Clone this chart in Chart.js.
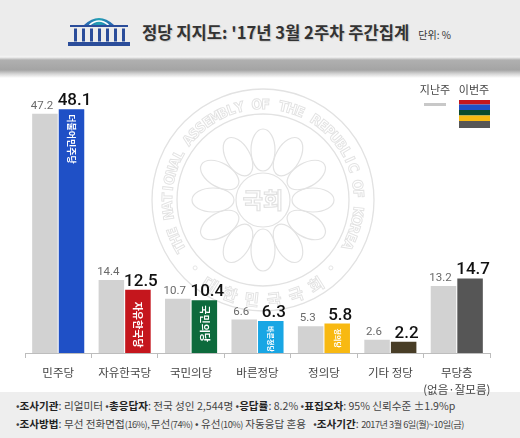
<!DOCTYPE html>
<html>
<head>
<meta charset="utf-8">
<script src="https://cdn.jsdelivr.net/npm/chart.js@4.4.0/dist/chart.umd.min.js"></script>
<style>
  html, body { margin: 0; padding: 0; background: #fff; }
  body { width: 520px; height: 438px; position: relative; overflow: hidden; font-family: "Noto Sans CJK KR", sans-serif; }
  #head { position: absolute; left: 0; top: 0; width: 520px; height: 78px;
    background: linear-gradient(#ececec 0px, #ececec 55px, #f4f4f4 57px, #b0b0b0 60px, #a4a4a4 70px, #d6d6d6 74px, #fff 78px); }
  #title { position: absolute; left: 142px; top: 19px; line-height: 26px; font-size: 16.6px; font-weight: bold; color: #333; white-space: nowrap;
    text-shadow: 1px 1px 1px rgba(0,0,0,0.15); }
  #title small { font-size: 10px; font-weight: normal; margin-left: 9px; text-shadow: none; }
  #logo { position: absolute; left: 66px; top: 13px; }
  #foot { position: absolute; left: 0; top: 392px; width: 520px; height: 46px; background: #eeeeee;
    font-size: 10.6px; line-height: 18px; color: #444; padding: 5px 0 0 16px; box-sizing: border-box; white-space: nowrap; }
  #foot b { color: #222; }
  #foot .n { font-size: 9.2px; letter-spacing: -0.5px; }
  #c { position: absolute; left: 0; top: 0; }
</style>
</head>
<body>
<div id="head"></div>
<svg id="logo" width="68" height="37" viewBox="0 0 68 37">
  <defs>
    <linearGradient id="dome" x1="0" y1="0" x2="1" y2="0">
      <stop offset="0" stop-color="#2a5fb2"/>
      <stop offset="0.5" stop-color="#22a3b4"/>
      <stop offset="1" stop-color="#2a5fb2"/>
    </linearGradient>
  </defs>
  <path d="M18 12 Q33 -2 48 12 Z" fill="url(#dome)"/>
  <path d="M23.5 12 Q33 4 42.5 12" fill="none" stroke="#fff" stroke-width="1.6"/>
  <rect x="4" y="12" width="58" height="2" fill="#2b4d9a"/>
  <g fill="#2b4d9a">
    <rect x="8" y="15.5" width="3" height="13"/>
    <rect x="16" y="15.5" width="3" height="13"/>
    <rect x="24" y="15.5" width="3" height="13"/>
    <rect x="32" y="15.5" width="3" height="13"/>
    <rect x="40" y="15.5" width="3" height="13"/>
    <rect x="48" y="15.5" width="3" height="13"/>
    <rect x="56" y="15.5" width="3" height="13"/>
  </g>
  <rect x="2" y="29" width="62" height="4" fill="#2b4d9a"/>
</svg>
<div id="title">정당 지지도: '17년 3월 2주차 주간집계<small>단위: %</small></div>
<div id="foot">
  <div>•<b>조사기관</b>: 리얼미터 •<b>총응답자</b>: 전국 성인 2,544명 •<b>응답률</b>: 8.2% •<b>표집오차</b>: 95% 신뢰수준 ±1.9%p</div>
  <div>•<b>조사방법</b>: 무선 전화면접<span class="n">(16%), </span>무선<span class="n">(74%)</span> • 유선<span class="n">(10%)</span> 자동응답 혼용 &nbsp; •<b>조사기간</b>: <span class="n">2017년 3월 6일(월)~10일(금)</span></div>
</div>
<canvas id="c" width="520" height="438"></canvas>
<script>
// chart values
const categories = ['민주당', '자유한국당', '국민의당', '바른정당', '정의당', '기타 정당', ['무당층', '(없음·잘모름)']];
const lastWeek = [47.2, 14.4, 10.7, 6.6, 5.3, 2.6, 13.2];
const thisWeek = [48.1, 12.5, 10.4, 6.3, 5.8, 2.2, 14.7];
const partyColors = ['#1f50c6', '#c5161d', '#0d6a3c', '#19a6e4', '#f8b912', '#483d26', '#565656'];
const barNames = ['더불어민주당', '자유한국당', '국민의당', '바른정당', '정의당', '', ''];
const legendLabels = ['지난주', '이번주'];

const KR = '"Noto Sans CJK KR", sans-serif';
const NUM = 'Roboto, "Noto Sans", sans-serif';

// faint assembly seal behind the bars
const sealPlugin = {
  id: 'seal',
  beforeDatasetsDraw(chart) {
    const ctx = chart.ctx;
    const cx = 263, cy = 200;
    ctx.save();
    ctx.strokeStyle = '#e2e2e2';
    ctx.lineWidth = 1.3;
    ctx.beginPath(); ctx.arc(cx, cy, 111, 0, Math.PI * 2); ctx.stroke();
    ctx.beginPath(); ctx.arc(cx, cy, 86, 0, Math.PI * 2); ctx.stroke();
    // ring text, clockwise over the top
    const top = 'THE NATIONAL ASSEMBLY OF THE REPUBLIC OF KOREA';
    ctx.font = 'bold 14px "DejaVu Sans Condensed", "DejaVu Sans", sans-serif';
    ctx.textAlign = 'center';
    ctx.textBaseline = 'alphabetic';
    ctx.lineWidth = 0.9;
    const a0 = 150 * Math.PI / 180, a1 = 388 * Math.PI / 180;
    for (let i = 0; i < top.length; i++) {
      const a = a0 + (a1 - a0) * i / (top.length - 1);
      ctx.save();
      ctx.translate(cx + 91 * Math.cos(a), cy + 91 * Math.sin(a));
      ctx.rotate(a + Math.PI / 2);
      ctx.strokeText(top[i], 0, 0);
      ctx.restore();
    }
    // bottom text, upright
    const bottom = '대한민국국회';
    ctx.font = 'bold 16px ' + KR;
    const b0 = 122 * Math.PI / 180, b1 = 58 * Math.PI / 180;
    for (let i = 0; i < bottom.length; i++) {
      const a = b0 + (b1 - b0) * i / (bottom.length - 1);
      ctx.save();
      ctx.translate(cx + 106 * Math.cos(a), cy + 106 * Math.sin(a));
      ctx.rotate(a - Math.PI / 2);
      ctx.strokeText(bottom[i], 0, 0);
      ctx.restore();
    }
    [135, 45].forEach(d => {
      const a = d * Math.PI / 180;
      ctx.beginPath();
      ctx.arc(cx + 96 * Math.cos(a), cy + 96 * Math.sin(a), 2, 0, Math.PI * 2);
      ctx.stroke();
    });
    // flower petals
    ctx.lineWidth = 1.2;
    for (let i = 0; i < 12; i++) {
      const a = i * Math.PI / 6;
      ctx.save();
      ctx.translate(cx + 50 * Math.cos(a), cy + 50 * Math.sin(a));
      ctx.rotate(a);
      ctx.beginPath();
      ctx.ellipse(0, 0, 21, 12, 0, 0, Math.PI * 2);
      ctx.stroke();
      ctx.restore();
    }
    ctx.beginPath(); ctx.arc(cx, cy, 27, 0, Math.PI * 2); ctx.stroke();
    ctx.font = 'bold 22px ' + KR;
    ctx.textBaseline = 'middle';
    ctx.strokeText('국회', cx, cy);
    ctx.restore();
  }
};

// value labels above the bars and party names inside this week's bars
const labelPlugin = {
  id: 'labels',
  afterDatasetsDraw(chart) {
    const ctx = chart.ctx;
    ctx.save();
    ctx.textAlign = 'center';
    ctx.textBaseline = 'alphabetic';
    chart.getDatasetMeta(0).data.forEach((bar, i) => {
      ctx.font = '11.5px ' + NUM;
      ctx.fillStyle = '#6a6a6a';
      ctx.fillText(lastWeek[i].toFixed(1), bar.x - 3, bar.y - 5);
    });
    chart.getDatasetMeta(1).data.forEach((bar, i) => {
      ctx.font = '500 17px ' + NUM;
      ctx.fillStyle = '#111';
      ctx.fillText(thisWeek[i].toFixed(1), bar.x + 3, bar.y - 4);
      if (barNames[i]) {
        const size = i === 0 ? 9 : (i < 3 ? 10 : 7);
        ctx.save();
        ctx.translate(bar.x, bar.y + (i === 1 ? 12 : 5));
        ctx.rotate(Math.PI / 2);
        ctx.font = 'bold ' + size + 'px ' + KR;
        ctx.fillStyle = '#fff';
        ctx.textAlign = 'left';
        ctx.textBaseline = 'middle';
        ctx.fillText(barNames[i], 0, 0);
        ctx.restore();
      }
    });
    ctx.restore();
  }
};

// legend in the top right corner
const legendPlugin = {
  id: 'legendBox',
  afterDraw(chart) {
    const ctx = chart.ctx;
    ctx.save();
    ctx.font = '11px ' + KR;
    ctx.fillStyle = '#444';
    ctx.textAlign = 'center';
    ctx.textBaseline = 'middle';
    ctx.fillText(legendLabels[0], 435, 90);
    ctx.fillText(legendLabels[1], 474, 90);
    ctx.fillStyle = '#c8c8c8';
    ctx.fillRect(424, 103, 22, 3);
    const stripes = ['#c5161d', '#1f50c6', '#0b4a2c', '#f8b912', '#565656'];
    const h = [4.5, 5.5, 5.5, 5.5, 7];
    let y = 100;
    stripes.forEach((c, k) => {
      ctx.fillStyle = c;
      ctx.fillRect(459, y, 31, h[k]);
      y += h[k];
    });
    ctx.restore();
  }
};

new Chart(document.getElementById('c'), {
  type: 'bar',
  data: {
    labels: categories,
    datasets: [
      {
        label: legendLabels[0],
        data: lastWeek,
        backgroundColor: '#d2d2d2',
        categoryPercentage: 0.8,
        barPercentage: 0.96
      },
      {
        label: legendLabels[1],
        data: thisWeek,
        backgroundColor: partyColors,
        categoryPercentage: 0.8,
        barPercentage: 0.96
      }
    ]
  },
  options: {
    responsive: false,
    animation: false,
    layout: { padding: { top: 99.5, left: 25, right: 30, bottom: 0 } },
    plugins: {
      legend: { display: false },
      tooltip: { enabled: false }
    },
    scales: {
      x: {
        offset: true,
        grid: { offset: true, drawOnChartArea: false, drawTicks: true, tickLength: 5, color: '#bdbdbd' },
        border: { display: true, color: '#bdbdbd' },
        ticks: {
          color: '#444',
          padding: 6,
          maxRotation: 0,
          autoSkip: false,
          font: { family: KR, size: 11.5, lineHeight: 1.5 }
        },
        afterFit: (scale) => { scale.height = 85; }
      },
      y: { display: false, min: 0, max: 50 }
    }
  },
  plugins: [sealPlugin, labelPlugin, legendPlugin]
});
</script>
</body>
</html>
